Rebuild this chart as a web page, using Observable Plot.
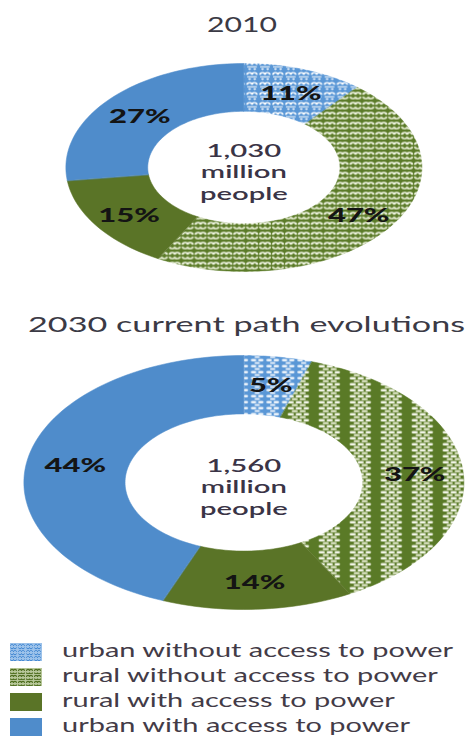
<!DOCTYPE html>
<html>
<head>
<meta charset="utf-8">
<script src="https://cdn.jsdelivr.net/npm/d3@7"></script>
<script src="https://cdn.jsdelivr.net/npm/@observablehq/plot@0.6"></script>
<style>
  html, body { margin: 0; padding: 0; background: #fff; }
  #page { position: relative; width: 470px; height: 739px; overflow: hidden; font-family: Lato, sans-serif; }
  .title, .legtext { position: absolute; white-space: nowrap; line-height: 1; transform-origin: 0 0; display: inline-block; }
  .title { color: #3b3a45; font-size: 21px; }
  .legtext { color: #433b47; font-size: 19px; }
  .chart { position: absolute; left: 0; }
  .swatch { position: absolute; left: 10px; width: 32px; height: 18px; }
</style>
</head>
<body>
<svg width="0" height="0" style="position:absolute">
  <defs>
    <pattern id="pUW10" width="7.5" height="10" patternUnits="userSpaceOnUse">
      <rect width="7.5" height="10" fill="#5a97d6"/>
      <path d="M0.6,4.2 C0.6,1.4 3.4,1.4 3.4,4.2 C3.4,1.4 6.2,1.4 6.2,4.2" fill="none" stroke="#ffffff" stroke-width="1.1"/>
      <path d="M0.6,6.3 L6.2,6.3" stroke="#ffffff" stroke-width="1"/>
      <circle cx="2" cy="8.6" r="0.8" fill="#ffffff"/>
      <circle cx="5" cy="8.6" r="0.8" fill="#ffffff"/>
    </pattern>
    <pattern id="pRW10" width="7.5" height="10" patternUnits="userSpaceOnUse">
      <rect width="7.5" height="10" fill="#5b7b28"/>
      <path d="M0.6,4.2 C0.6,1.2 3.5,1.2 3.5,4.2 C3.5,1.2 6.4,1.2 6.4,4.2" fill="none" stroke="#eef3e0" stroke-width="1.4"/>
      <path d="M0.6,6.2 C0.6,9 3.5,9 3.5,6.2 C3.5,9 6.4,9 6.4,6.2" fill="none" stroke="#e4ebd0" stroke-width="1.4"/>
    </pattern>
    <pattern id="pRW30" width="18" height="6" patternUnits="userSpaceOnUse">
      <rect width="18" height="6" fill="#5a7a27"/>
      <rect x="4.6" y="0.5" width="3.6" height="2.4" rx="1" fill="#f4f7ea"/>
      <rect x="9.2" y="0.5" width="3.6" height="2.4" rx="1" fill="#f4f7ea"/>
      <rect x="13.8" y="0.5" width="3.2" height="2.4" rx="1" fill="#f4f7ea"/>
      <rect x="6.9" y="3.5" width="3.6" height="2.2" rx="1" fill="#e3eacd"/>
      <rect x="11.5" y="3.5" width="3.6" height="2.2" rx="1" fill="#e3eacd"/>
    </pattern>
    <pattern id="pUW30" width="9" height="6" patternUnits="userSpaceOnUse">
      <rect width="9" height="6" fill="#5a97d6"/>
      <rect x="1.2" y="0.6" width="3.2" height="2.2" rx="1" fill="#ffffff"/>
      <rect x="5.4" y="0.6" width="3.2" height="2.2" rx="1" fill="#ffffff"/>
      <rect x="3.3" y="3.6" width="3.2" height="2" rx="1" fill="#eaf2fb"/>
    </pattern>
    <pattern id="pUWleg" width="8" height="6" patternUnits="userSpaceOnUse">
      <rect width="8" height="6" fill="#9cc2ea"/>
      <path d="M0.5,3 C0.5,0.8 3.5,0.8 3.5,3 C3.5,0.8 6.5,0.8 6.5,3" fill="none" stroke="#3f86d2" stroke-width="1"/>
      <path d="M0.5,4.5 C0.5,6.2 3.5,6.2 3.5,4.5 C3.5,6.2 6.5,6.2 6.5,4.5" fill="none" stroke="#3f86d2" stroke-width="1"/>
    </pattern>
    <pattern id="pRWleg" width="8" height="6" patternUnits="userSpaceOnUse">
      <rect width="8" height="6" fill="#b7c79a"/>
      <path d="M0.5,3 C0.5,0.8 3.5,0.8 3.5,3 C3.5,0.8 6.5,0.8 6.5,3" fill="none" stroke="#4f6f20" stroke-width="1.1"/>
      <path d="M0.5,4.5 C0.5,6.2 3.5,6.2 3.5,4.5 C3.5,6.2 6.5,6.2 6.5,4.5" fill="none" stroke="#4f6f20" stroke-width="1.1"/>
    </pattern>
  </defs>
</svg>
<div id="page"></div>
<script>
// ---- data ----
const categories = [
  "urban without access to power",
  "rural without access to power",
  "rural with access to power",
  "urban with access to power"
];
const shares2010 = [11, 47, 15, 27];
const shares2030 = [5, 37, 14, 44];
const totals = ["1,030", "1,560"];
const centerUnit = ["million", "people"];
const titles = ["2010", "2030 current path evolutions"];

// ---- styling ----
const colors2010 = ["url(#pUW10)", "url(#pRW10)", "#5a7427", "#4f8ccb"];
const colors2030 = ["url(#pUW30)", "url(#pRW30)", "#5a7427", "#4f8ccb"];
const legendFills = ["url(#pUWleg)", "url(#pRWleg)", "#5a7427", "#4f8ccb"];

const PAGE_W = 470;
const W0 = 273;               // intrinsic width, stretched horizontally to PAGE_W
const S = PAGE_W / W0;
const INNER = 0.54;
const LABEL_R = 0.78;

const page = document.getElementById("page");

function donut(values, total, colorRange, box) {
  const slices = [];
  const labels = [];
  let cum = 0;
  values.forEach((v, i) => {
    const a0 = cum / 100 * 2 * Math.PI;
    const a1 = (cum + v) / 100 * 2 * Math.PI;
    const n = Math.max(4, Math.ceil(v * 2));
    for (let k = 0; k <= n; k++) {
      const a = a0 + (a1 - a0) * k / n;
      slices.push({cat: categories[i], x: Math.sin(a), y: Math.cos(a)});
    }
    for (let k = n; k >= 0; k--) {
      const a = a0 + (a1 - a0) * k / n;
      slices.push({cat: categories[i], x: INNER * Math.sin(a), y: INNER * Math.cos(a)});
    }
    const m = (a0 + a1) / 2;
    labels.push({label: v + "%", x: LABEL_R * Math.sin(m), y: LABEL_R * Math.cos(m)});
    cum += v;
  });
  const center = [{t: [total, ...centerUnit].join("\n"), x: 0, y: 0}];

  const svg = Plot.plot({
    width: W0,
    height: box.height,
    marginLeft: (box.cx - box.rx) / S,
    marginRight: W0 - (box.cx + box.rx) / S,
    marginTop: box.outerTop - box.top,
    marginBottom: box.top + box.height - box.outerBottom,
    style: {fontFamily: "Lato, sans-serif", background: "transparent", overflow: "visible"},
    x: {domain: [-1, 1], axis: null},
    y: {domain: [-1, 1], axis: null},
    color: {type: "ordinal", domain: categories, range: colorRange},
    marks: [
      Plot.line(slices, {x: "x", y: "y", z: "cat", fill: "cat", stroke: "cat", strokeWidth: 0.4, curve: "linear-closed"}),
      Plot.text(labels, {x: "x", y: "y", text: "label", fontSize: 18, fontWeight: 900, fill: "#141414", dy: box.labelDy}),
      Plot.text(center, {x: "x", y: "y", text: "t", fontSize: 17, fontWeight: 600, lineHeight: 1.27, fill: "#3a3446", dy: 4})
    ]
  });
  svg.setAttribute("width", PAGE_W);
  svg.setAttribute("height", box.height);
  svg.setAttribute("preserveAspectRatio", "none");
  svg.style.width = PAGE_W + "px";
  svg.style.height = box.height + "px";
  svg.style.maxWidth = "none";
  const wrap = document.createElement("div");
  wrap.className = "chart";
  wrap.style.top = box.top + "px";
  wrap.appendChild(svg);
  page.appendChild(wrap);
}

donut(shares2010, totals[0], colors2010, {top: 40, height: 250, cx: 243, rx: 178, outerTop: 63, outerBottom: 271, labelDy: 3});
donut(shares2030, totals[1], colors2030, {top: 340, height: 280, cx: 243, rx: 220, outerTop: 355, outerBottom: 609, labelDy: 2});

// ---- titles ----
const fitters = [];
function addText(cls, text, left, baseline, targetW, fs, centerX) {
  const el = document.createElement("div");
  el.className = cls;
  el.textContent = text;
  el.style.fontSize = fs + "px";
  el.style.top = (baseline - 0.887 * fs) + "px";
  el.style.left = left + "px";
  page.appendChild(el);
  fitters.push(() => {
    el.style.transform = "none";
    const w = el.getBoundingClientRect().width;
    const k = targetW / w;
    el.style.transform = `scaleX(${k})`;
    if (centerX != null) el.style.left = (centerX - targetW / 2) + "px";
  });
  return el;
}
addText("title", titles[0], 207, 32, 70, 21, 242);
addText("title", titles[1], 28, 333, 437, 22);

// ---- legend ----
const legBase = [657, 682, 707, 732];
const legEls = [];
categories.forEach((c, i) => {
  const sw = document.createElementNS("http://www.w3.org/2000/svg", "svg");
  sw.setAttribute("class", "swatch");
  sw.setAttribute("width", 32);
  sw.setAttribute("height", 18);
  sw.style.top = (legBase[i] - 14) + "px";
  const r = document.createElementNS("http://www.w3.org/2000/svg", "rect");
  r.setAttribute("width", 32);
  r.setAttribute("height", 18);
  r.setAttribute("fill", legendFills[i]);
  sw.appendChild(r);
  page.appendChild(sw);
  const el = document.createElement("div");
  el.className = "legtext";
  el.textContent = c;
  el.style.fontSize = "19px";
  el.style.top = (legBase[i] - 0.887 * 19) + "px";
  el.style.left = "62px";
  page.appendChild(el);
  legEls.push(el);
});
fitters.push(() => {
  legEls.forEach(e => e.style.transform = "none");
  const w = legEls[0].getBoundingClientRect().width;
  const k = 391 / w;
  legEls.forEach(e => e.style.transform = `scaleX(${k})`);
});
function runFit() { fitters.forEach(f => f()); }
runFit();
if (document.fonts && document.fonts.ready) document.fonts.ready.then(runFit);
</script>
</body>
</html>
